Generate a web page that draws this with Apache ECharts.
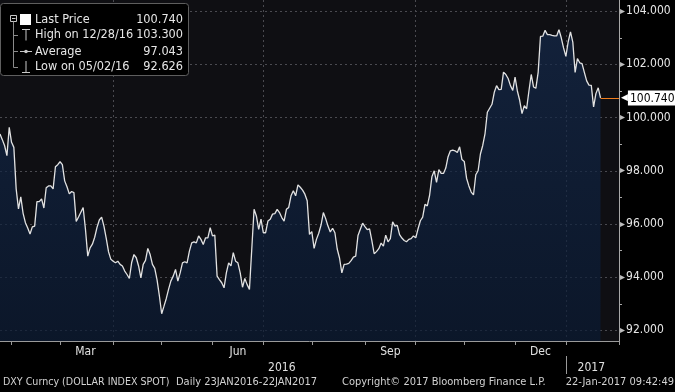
<!DOCTYPE html>
<html>
<head>
<meta charset="utf-8">
<script src="https://cdn.jsdelivr.net/npm/echarts@6/dist/echarts.min.js"></script>
<style>
html,body{margin:0;padding:0;background:#000;}
#c{width:675px;height:392px;}
</style>
</head>
<body>
<div id="c"></div>
<script>
// ---------- data ----------
const firstDate = '2016-01-25';
const lastTradeDate = '2017-01-20';
const liveDate = '2017-01-22';
const axisEndDate = '2017-02-01';

const prices = [
99.38,99.17,98.94,98.57,99.63,99.07,98.88,97.32,96.57,97.02,
96.40,96.05,95.85,95.62,95.89,95.92,96.84,96.84,96.94,96.60,
97.36,97.43,97.43,97.32,98.15,98.23,98.34,98.23,97.62,97.40,
97.13,97.22,97.18,96.09,96.26,96.44,96.62,95.80,94.79,95.10,
95.24,95.50,95.87,96.15,96.26,95.92,95.46,94.95,94.67,94.60,
94.54,94.60,94.48,94.42,94.23,94.10,93.95,94.55,94.85,94.73,
94.42,93.97,94.48,94.63,95.08,94.85,94.48,94.33,93.90,93.30,
92.626,92.91,93.20,93.55,93.86,94.04,94.29,93.85,94.16,94.54,
94.58,94.54,94.98,95.29,95.33,95.29,95.55,95.42,95.23,95.48,
95.48,95.86,95.55,95.58,94.04,93.91,93.79,93.60,94.16,94.54,
94.42,94.92,94.60,94.54,94.16,93.62,93.95,93.72,93.54,95.05,
96.55,96.30,95.80,96.18,95.67,95.67,96.11,96.18,96.37,96.39,
96.55,96.43,96.24,96.11,96.55,96.62,97.06,97.25,97.06,97.47,
97.38,97.27,97.12,96.87,95.61,95.71,95.08,95.42,95.65,95.96,
96.43,96.20,95.92,95.70,95.84,95.67,95.06,94.72,94.16,94.48,
94.49,94.52,94.62,94.75,94.79,95.57,95.80,96.03,95.90,95.79,
95.82,95.37,94.88,94.96,95.07,95.28,95.17,95.58,95.33,95.45,
96.08,95.92,95.95,95.60,95.47,95.38,95.33,95.42,95.45,95.55,
95.48,95.82,96.12,96.26,96.74,96.68,97.08,97.78,98.00,97.56,
98.04,97.90,97.90,98.10,98.53,98.75,98.78,98.75,98.69,98.90,
98.42,98.35,97.72,97.43,97.20,97.09,97.85,98.00,98.63,98.95,
99.40,100.20,100.35,100.50,100.95,101.20,101.05,101.06,101.71,101.62,
101.47,101.20,101.02,101.52,101.00,100.65,100.15,100.45,100.33,101.00,
101.62,101.15,101.10,101.70,103.05,103.06,103.28,103.12,103.12,103.09,
103.07,103.07,103.30,103.00,102.62,102.30,102.85,103.22,102.84,101.70,
102.22,102.06,102.03,101.70,101.38,101.22,101.21,100.40,100.90,101.12,
100.74
];

const lastPrice = 100.74;
const yTicks = [92, 94, 96, 98, 100, 102, 104];
const yMinorTicks = [93, 95, 97, 99, 101, 103];
const monthNames = ['Jan','Feb','Mar','Apr','May','Jun','Jul','Aug','Sep','Oct','Nov','Dec'];
const labelledMonths = [2, 5, 8, 11];      // Mar, Jun, Sep, Dec
const quarterMonths = [0, 3, 6, 9];        // vertical gridlines
const legendLabels = ['Last Price', 'High on 12/28/16', 'Average', 'Low on 05/02/16'];
const legendValues = ['100.740', '103.300', '97.043', '92.626'];
const footerLeft = 'DXY Curncy (DOLLAR INDEX SPOT)';
const footerRange = 'Daily 23JAN2016-22JAN2017';
const footerCopy = 'Copyright\u00A9 2017 Bloomberg Finance L.P.';
const footerTime = '22-Jan-2017 09:42:49';

// ---------- trading-day categories ----------
function ymd(d){
  return d.getFullYear() + '-' + String(d.getMonth()+1).padStart(2,'0') + '-' + String(d.getDate()).padStart(2,'0');
}
const cats = [];
{
  const p = firstDate.split('-').map(Number);
  const q = axisEndDate.split('-').map(Number);
  const d = new Date(p[0], p[1]-1, p[2]);
  const e = new Date(q[0], q[1]-1, q[2]);
  while (d <= e) {
    const wd = d.getDay();
    if (wd !== 0 && wd !== 6) cats.push(ymd(d));
    if (ymd(d) === lastTradeDate) cats.push(liveDate);
    d.setDate(d.getDate() + 1);
  }
}
const monthOf = s => +s.slice(5,7) - 1;
const yearOf = s => +s.slice(0,4);
const monthStarts = [];
const yearStarts = [];
for (let i = 1; i < cats.length; i++) {
  if (cats[i].slice(0,7) !== cats[i-1].slice(0,7)) monthStarts.push(i);
  if (cats[i].slice(0,4) !== cats[i-1].slice(0,4)) yearStarts.push(i);
}
const monthStartSet = new Set(monthStarts);
const quarterSet = new Set(monthStarts.filter(i => quarterMonths.includes(monthOf(cats[i]))));
const monthLabelIdx = new Map();
const allMonthStarts = [0].concat(monthStarts);
for (let k = 0; k < allMonthStarts.length; k++) {
  const a = allMonthStarts[k];
  const b = k + 1 < allMonthStarts.length ? allMonthStarts[k+1] : cats.length - 1;
  const m = monthOf(cats[a]);
  if (labelledMonths.includes(m) && k + 1 < allMonthStarts.length) {
    monthLabelIdx.set(Math.floor((a + b) / 2), monthNames[m]);
  }
}
const yearLabelIdx = new Map();
const allYearStarts = [0].concat(yearStarts);
for (let k = 0; k < allYearStarts.length; k++) {
  const a = allYearStarts[k];
  const b = k + 1 < allYearStarts.length ? allYearStarts[k+1] : cats.length - 1;
  yearLabelIdx.set(Math.floor((a + b) / 2), String(yearOf(cats[a])));
}
const yearSepSet = new Set(yearStarts);

// ---------- chart ----------
const FONT = "'DejaVu Sans Condensed', 'Liberation Sans Narrow', 'DejaVu Sans', sans-serif";
const chart = echarts.init(document.getElementById('c'), null, {renderer: 'canvas'});

const legendRowsY = [20, 35, 51.5, 67];
const iconColor = '#c8c8c8';
const graphics = [
  {type:'rect', shape:{x:0.5, y:3.5, width:188, height:72, r:3}, style:{fill:'#000', stroke:'#5e5e5e', lineWidth:1}, z:10},
  {type:'rect', shape:{x:10.5, y:15.5, width:6, height:6}, style:{fill:'none', stroke:iconColor, lineWidth:1}, z:11},
  {type:'line', shape:{x1:12, y1:18.5, x2:15.5, y2:18.5}, style:{stroke:iconColor, lineWidth:1}, z:11},
  {type:'line', shape:{x1:13.5, y1:21.5, x2:13.5, y2:67.5}, style:{stroke:'#8a8a8a', lineWidth:1}, z:11},
  {type:'line', shape:{x1:13.5, y1:35.5, x2:18, y2:35.5}, style:{stroke:'#8a8a8a', lineWidth:1}, z:11},
  {type:'line', shape:{x1:13.5, y1:51.5, x2:18, y2:51.5}, style:{stroke:'#8a8a8a', lineWidth:1}, z:11},
  {type:'line', shape:{x1:13.5, y1:67.5, x2:18, y2:67.5}, style:{stroke:'#8a8a8a', lineWidth:1}, z:11},
  {type:'rect', shape:{x:20, y:14, width:11, height:11}, style:{fill:'#ffffff'}, z:11},
  {type:'line', shape:{x1:22, y1:29.5, x2:30, y2:29.5}, style:{stroke:iconColor, lineWidth:1}, z:11},
  {type:'line', shape:{x1:26, y1:29.5, x2:26, y2:40.5}, style:{stroke:iconColor, lineWidth:1}, z:11},
  {type:'line', shape:{x1:20, y1:51.5, x2:32, y2:51.5}, style:{stroke:iconColor, lineWidth:1}, z:11},
  {type:'circle', shape:{cx:26, cy:51.5, r:1.8}, style:{fill:iconColor}, z:11},
  {type:'line', shape:{x1:26, y1:61, x2:26, y2:72}, style:{stroke:iconColor, lineWidth:1}, z:11},
  {type:'line', shape:{x1:22, y1:72.5, x2:30, y2:72.5}, style:{stroke:iconColor, lineWidth:1}, z:11}
];
legendLabels.forEach((t, i) => {
  graphics.push({type:'text', x:35, y:legendRowsY[i], z:12,
    style:{text:t, fill:'#e6e6e6', font:'12.6px ' + FONT, textVerticalAlign:'middle', textAlign:'left'}});
  graphics.push({type:'text', x:183, y:legendRowsY[i], z:12,
    style:{text:legendValues[i], fill:'#e6e6e6', font:'12.6px ' + FONT, textVerticalAlign:'middle', textAlign:'right'}});
});
[[footerLeft, 3, 'left'], [footerRange, 176, 'left'], [footerCopy, 342, 'left'], [footerTime, 674, 'right']].forEach(f => {
  graphics.push({type:'text', x:f[1], y:382, z:12,
    style:{text:f[0], fill:'#d2d2d2', font:(f[1] === 3 ? '10.6px ' : '11px ') + FONT, textVerticalAlign:'middle', textAlign:f[2]}});
});

const option = {
  backgroundColor: '#000',
  animation: false,
  grid: {left: 0, right: 56, top: 0, bottom: 51, show: true, backgroundColor: '#0f0f13', borderWidth: 0, containLabel: false},
  xAxis: [
    {
      type: 'category', data: cats, boundaryGap: false, position: 'bottom',
      axisLine: {show: true, lineStyle: {color: '#9a9a9a', width: 1}},
      axisTick: {show: true, length: 4, lineStyle: {color: '#9a9a9a'}, interval: (i) => monthStartSet.has(i)},
      axisLabel: {show: true, interval: (i) => monthLabelIdx.has(i), formatter: (v, i) => monthLabelIdx.get(i) || '',
        color: '#e0e0e0', fontFamily: FONT, fontSize: 12, margin: 5},
      splitLine: {show: true, interval: (i) => quarterSet.has(i), lineStyle: {color: '#4a4a50', type: [2, 3], width: 1}}
    },
    {
      type: 'category', data: cats, boundaryGap: false, position: 'bottom', offset: 15,
      axisLine: {show: false},
      axisTick: {show: true, length: 18, lineStyle: {color: '#9a9a9a'}, interval: (i) => yearSepSet.has(i)},
      axisLabel: {show: true, interval: (i) => yearLabelIdx.has(i), formatter: (v, i) => yearLabelIdx.get(i) || '',
        color: '#e0e0e0', fontFamily: FONT, fontSize: 12, margin: 6},
      splitLine: {show: false}
    }
  ],
  yAxis: [
    {
      type: 'value', position: 'right', min: 91.6, max: 104.42,
      axisLine: {show: true, lineStyle: {color: '#a8a8a8', width: 1}},
      axisTick: {show: true, length: 3, customValues: yTicks, lineStyle: {color: '#a8a8a8'}},
      axisLabel: {show: true, customValues: yTicks, margin: 1,
        formatter: v => '{t|\u25B8}{v|' + Number(v).toFixed(3) + '}',
        rich: {
          t: {color: '#bdbdbd', fontSize: 10, fontFamily: 'DejaVu Sans', padding: [0, 1, 0, 0]},
          v: {color: '#e6e6e6', fontSize: 12, fontFamily: FONT}
        }},
      splitLine: {show: true, lineStyle: {color: '#4a4a50', type: [2, 3], width: 1}}
    },
    {
      type: 'value', position: 'right', min: 91.6, max: 104.42,
      axisLine: {show: false},
      axisTick: {show: true, length: 3, customValues: yMinorTicks, lineStyle: {color: '#a8a8a8'}},
      axisLabel: {show: false},
      splitLine: {show: false}
    }
  ],
  graphic: graphics,
  series: [{
    type: 'line', xAxisIndex: 0, yAxisIndex: 0, data: prices,
    symbol: 'none', smooth: false,
    lineStyle: {color: '#e2e2e2', width: 1.3},
    areaStyle: {color: new echarts.graphic.LinearGradient(0, 0, 0, 1, [
      {offset: 0, color: '#14294b'}, {offset: 1, color: '#0a1a33'}
    ])},
    markLine: {
      silent: true, symbol: ['none', 'none'],
      lineStyle: {color: '#f07d1c', width: 1, type: 'solid'},
      label: {show: true, position: 'end', distance: 2,
        formatter: '{a|\u25C0}{b|' + lastPrice.toFixed(3) + '}',
        rich: {
          a: {color: '#ffffff', fontSize: 9, fontFamily: 'DejaVu Sans', padding: [0, 0, 0, 0]},
          b: {color: '#000', backgroundColor: '#ffffff', fontSize: 12, fontFamily: FONT, padding: [2, 2, 1, 2]}
        }},
      data: [[{coord: [liveDate, lastPrice]}, {coord: [axisEndDate, lastPrice]}]]
    }
  }]
};
chart.setOption(option);
</script>
</body>
</html>
